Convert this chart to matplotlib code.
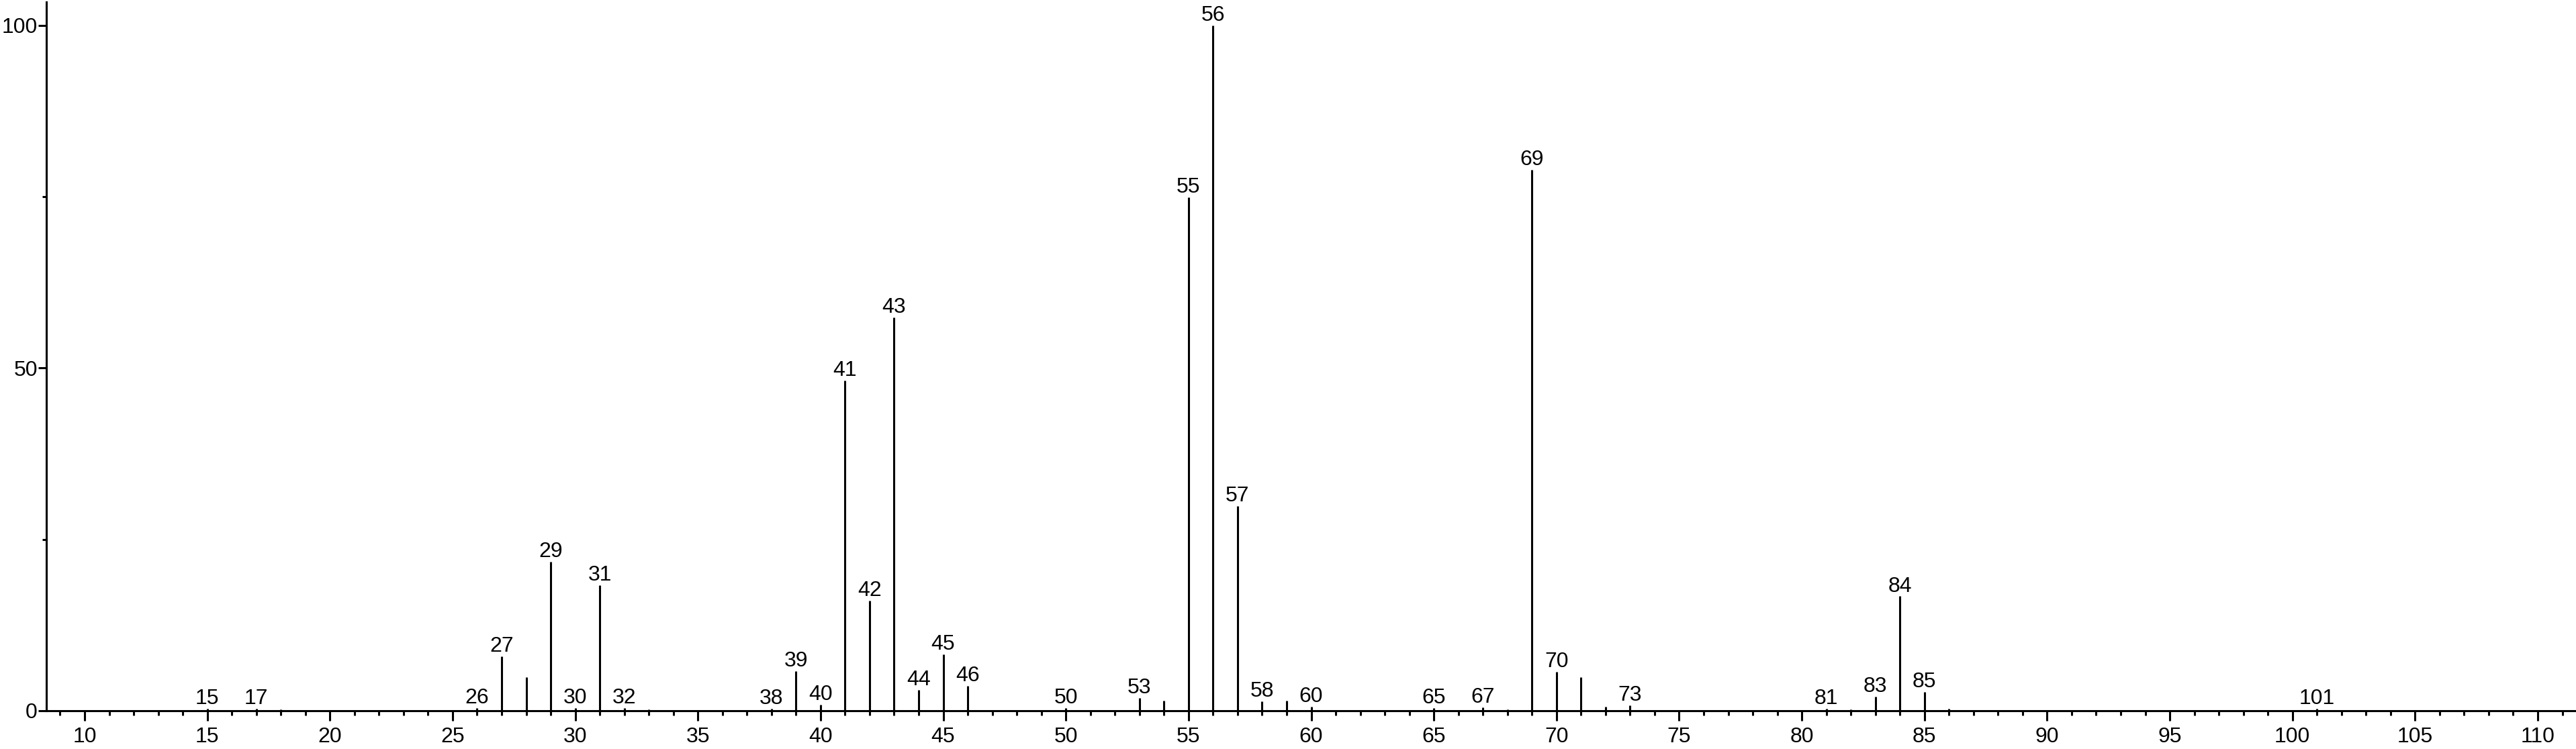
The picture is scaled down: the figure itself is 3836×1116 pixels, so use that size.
import matplotlib
matplotlib.use('Agg')
import matplotlib.pyplot as plt
from matplotlib.ticker import MultipleLocator

# m/z values and relative intensities (%)
mz = [15, 17, 18, 26, 27, 28, 29, 30, 31, 32, 33, 38, 39, 40, 41, 42, 43, 44,
      45, 46, 50, 53, 54, 55, 56, 57, 58, 59, 60, 65, 67, 68, 69, 70, 71, 72,
      73, 81, 82, 83, 84, 85, 86, 101]
intensity = [0.3, 0.3, 0.2, 0.4, 7.9, 4.9, 21.7, 0.4, 18.3, 0.4, 0.2, 0.3, 5.8,
             0.9, 48.2, 16.1, 57.4, 3.0, 8.2, 3.6, 0.4, 1.9, 1.5, 74.9, 100.0,
             29.9, 1.4, 1.5, 0.6, 0.4, 0.5, 0.2, 78.9, 5.7, 4.9, 0.6, 0.8, 0.3,
             0.2, 2.1, 16.7, 2.7, 0.3, 0.3]
# peaks that carry an m/z label
labelled = [15, 17, 26, 27, 29, 30, 31, 32, 38, 39, 40, 41, 42, 43, 44, 45, 46,
            50, 53, 55, 56, 57, 58, 60, 65, 67, 69, 70, 73, 81, 83, 84, 85, 101]

plt.rcParams['font.family'] = ['Liberation Sans', 'DejaVu Sans']
fsize = 23
lw = 2.2

fig = plt.figure(figsize=(38.36, 11.16), dpi=100)
ax = fig.add_axes([69 / 3836, 57 / 1116, 1 - 69 / 3836, 1056 / 1116])

ax.vlines(mz, 0, intensity, color='black', linewidth=lw)

for m, v in zip(mz, intensity):
    if m in labelled:
        ax.annotate(str(m), (m, v), xytext=(0, 5), textcoords='offset points',
                    ha='center', va='baseline', fontsize=fsize)

ax.set_xlim(8.44, 111.56)
ax.set_ylim(0, 103.4)

# axes styling
for side in ['top', 'right']:
    ax.spines[side].set_visible(False)
for side in ['left', 'bottom']:
    ax.spines[side].set_linewidth(lw)

ax.xaxis.set_major_locator(MultipleLocator(5))
ax.xaxis.set_minor_locator(MultipleLocator(1))
ax.yaxis.set_major_locator(MultipleLocator(50))
ax.yaxis.set_minor_locator(MultipleLocator(25))

ax.tick_params(axis='x', which='major', length=10.5, width=lw, labelsize=fsize, pad=7)
ax.tick_params(axis='x', which='minor', length=5, width=lw)
ax.tick_params(axis='y', which='major', length=8.4, width=lw, labelsize=fsize, pad=1)
ax.tick_params(axis='y', which='minor', length=4, width=lw)

fig.savefig('out.png', dpi=100)
